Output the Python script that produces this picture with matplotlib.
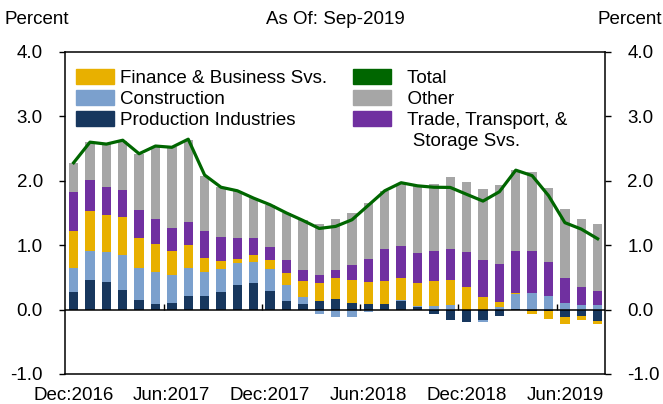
import matplotlib
matplotlib.use('Agg')
import numpy as np
import matplotlib.pyplot as plt
from matplotlib.patches import Patch

plt.rcParams['font.family'] = ['Liberation Sans', 'DejaVu Sans']
plt.rcParams['font.size'] = 13.5

# monthly, Dec 2016 .. Aug 2019
months = ['Dec:2016', 'Jan:2017', 'Feb:2017', 'Mar:2017', 'Apr:2017', 'May:2017',
          'Jun:2017', 'Jul:2017', 'Aug:2017', 'Sep:2017', 'Oct:2017', 'Nov:2017',
          'Dec:2017', 'Jan:2018', 'Feb:2018', 'Mar:2018', 'Apr:2018', 'May:2018',
          'Jun:2018', 'Jul:2018', 'Aug:2018', 'Sep:2018', 'Oct:2018', 'Nov:2018',
          'Dec:2018', 'Jan:2019', 'Feb:2019', 'Mar:2019', 'Apr:2019', 'May:2019',
          'Jun:2019', 'Jul:2019', 'Aug:2019']

production = [0.28, 0.455, 0.434, 0.30, 0.145, 0.083, 0.098, 0.207, 0.207, 0.269, 0.377,
              0.408, 0.295, 0.129, 0.083, 0.129, 0.16, 0.109, 0.083, 0.08, 0.129, 0.036,
              -0.062, -0.16, -0.2, -0.155, -0.103, 0.016, -0.025, -0.025, -0.119, -0.093, -0.17]
construction = [0.37, 0.45, 0.455, 0.548, 0.496, 0.496, 0.445, 0.434, 0.372, 0.356, 0.341,
                0.326, 0.335, 0.248, 0.108, -0.067, -0.114, -0.114, -0.041, 0.01, 0.016, 0.026,
                0.062, 0.072, 0.0, -0.041, 0.036, 0.227, 0.258, 0.207, 0.109, 0.072, 0.072]
finance = [0.57, 0.62, 0.574, 0.584, 0.47, 0.434, 0.372, 0.367, 0.227, 0.129, 0.073,
           0.108, 0.145, 0.197, 0.253, 0.29, 0.336, 0.356, 0.351, 0.354, 0.351, 0.351,
           0.382, 0.393, 0.357, 0.196, 0.088, 0.015, -0.045, -0.115, -0.098, -0.067, -0.057]
trade = [0.60, 0.49, 0.434, 0.428, 0.439, 0.398, 0.346, 0.351, 0.408, 0.378, 0.32,
         0.264, 0.202, 0.191, 0.176, 0.124, 0.114, 0.222, 0.357, 0.496, 0.496, 0.471,
         0.46, 0.481, 0.532, 0.574, 0.579, 0.657, 0.646, 0.537, 0.382, 0.274, 0.223]
other = [0.45, 0.58, 0.677, 0.765, 0.869, 1.11, 1.261, 1.277, 0.864, 0.77, 0.724,
         0.625, 0.651, 0.734, 0.775, 0.785, 0.796, 0.817, 0.868, 0.895, 0.956, 1.038,
         1.05, 1.111, 1.10, 1.106, 1.225, 1.245, 1.23, 1.146, 1.07, 1.06, 1.033]
total = [2.28, 2.60, 2.57, 2.63, 2.42, 2.54, 2.52, 2.646, 2.09, 1.90, 1.845,
         1.73, 1.628, 1.50, 1.385, 1.26, 1.292, 1.395, 1.62, 1.845, 1.97, 1.922,
         1.90, 1.897, 1.79, 1.685, 1.83, 2.165, 2.08, 1.77, 1.35, 1.25, 1.10]

series = [
    ('Production Industries', production, '#17375e'),
    ('Construction', construction, '#7ba0cd'),
    ('Finance & Business Svs.', finance, '#e8b000'),
    ('Trade, Transport, & Storage Svs.', trade, '#7030a0'),
    ('Other', other, '#a6a6a6'),
]
green = '#006600'

x = np.arange(len(months))

fig = plt.figure(figsize=(6.63, 4.04), dpi=100)
ax = fig.add_axes([65 / 663, 30 / 404, 540 / 663, 322 / 404])

pos_base = np.zeros(len(x))
neg_base = np.zeros(len(x))
for name, vals, col in series:
    v = np.array(vals)
    base = np.where(v >= 0, pos_base, neg_base)
    ax.bar(x, v, bottom=base, width=0.57, color=col, zorder=2)
    pos_base += np.where(v >= 0, v, 0)
    neg_base += np.where(v < 0, v, 0)

ax.plot(x, total, color=green, lw=2.3, zorder=4, solid_joinstyle='round')
ax.axhline(0, color='black', lw=1.1, zorder=3)

ax.set_xlim(-0.525, 32.45)
ax.set_ylim(-1, 4)
ax.set_yticks([-1, 0, 1, 2, 3, 4])
ax.set_yticklabels(['%.1f' % t for t in [-1, 0, 1, 2, 3, 4]])
ax.tick_params(axis='y', direction='out', length=4, width=1, pad=12,
               left=True, right=True, labelleft=True, labelright=True)
ax.set_xticks(x[::6])
ax.set_xticklabels([months[i] for i in x[::6]])
ax.tick_params(axis='x', length=0, pad=9)
for s in ax.spines.values():
    s.set_linewidth(1.1)

# little ticks on the zero line between months
zero_ax = ax.secondary_xaxis(0.2)
zero_ax.set_xticks(x[6::6] - 0.5)
zero_ax.tick_params(axis='x', direction='in', length=4.5, width=1, labelbottom=False)
zero_ax.spines['bottom'].set_visible(False)

handles = [Patch(color=series[2][2]), Patch(color=series[1][2]), Patch(color=series[0][2]),
           Patch(color='none'),
           Patch(color=green), Patch(color=series[4][2]), Patch(color=series[3][2]),
           Patch(color='none')]
labels = ['Finance & Business Svs.', 'Construction', 'Production Industries', '',
          '  Total', '  Other', '  Trade, Transport, &', '   Storage Svs.']
ax.legend(handles, labels, ncol=2, loc='upper left', bbox_to_anchor=(0.0204, 0.947),
          frameon=False, borderpad=0, borderaxespad=0, labelspacing=0.16,
          handlelength=2.03, handleheight=0.85, handletextpad=0.3, columnspacing=1.41)

fig.text(5 / 663, 1 - 20 / 404, 'Percent', ha='left', va='center')
fig.text(662 / 663, 1 - 20 / 404, 'Percent', ha='right', va='center')
fig.text(335 / 663, 1 - 20 / 404, 'As Of: Sep-2019', ha='center', va='center')

fig.savefig('out.png', dpi=100)
